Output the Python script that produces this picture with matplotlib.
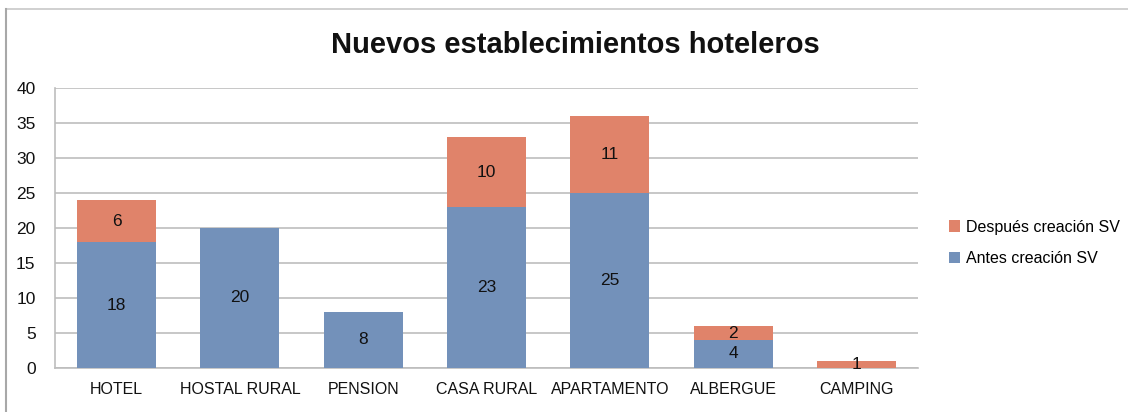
import matplotlib
matplotlib.use("Agg")
import matplotlib.pyplot as plt
from matplotlib.lines import Line2D
from matplotlib.patches import Patch

categories = ["HOTEL", "HOSTAL RURAL", "PENSION", "CASA RURAL", "APARTAMENTO", "ALBERGUE", "CAMPING"]
antes = [18, 20, 8, 23, 25, 4, 0]
despues = [6, 0, 0, 10, 11, 2, 1]
series_names = ["Después creación SV", "Antes creación SV"]
yticks = [0, 5, 10, 15, 20, 25, 30, 35, 40]

blue = "#7391BA"
orange = "#E0836A"
grid = "#BDBDBD"

plt.rcParams['font.family'] = ['Liberation Sans', 'DejaVu Sans']

fig = plt.figure(figsize=(11.28, 4.12), dpi=100)
ax = fig.add_axes([55/1128, 1-368/412, (918-55)/1128, (368-88)/412])

x = list(range(len(categories)))
w = 0.64
ax.bar(x, antes, width=w, color=blue, zorder=3)
ax.bar(x, despues, width=w, bottom=antes, color=orange, zorder=3)

for i in x:
    if antes[i] > 0:
        ax.text(i, antes[i]/2, str(antes[i]), ha="center", va="center", fontsize=12.5, color="#111111", zorder=4)
    if despues[i] > 0:
        ax.text(i, antes[i] + despues[i]/2, str(despues[i]), ha="center", va="center", fontsize=12.5, color="#111111", zorder=4)

ax.set_xlim(-0.5, len(categories) - 0.5)
ax.set_ylim(0, 40)
ax.set_yticks(yticks)
ax.set_yticklabels([str(t) for t in yticks], fontsize=12.5)
ax.set_xticks(x)
ax.set_xticklabels(categories, fontsize=11.5)
ax.tick_params(axis="both", length=0, colors="#111111")
ax.tick_params(axis="y", pad=14)
ax.tick_params(axis="x", pad=10)
ax.yaxis.grid(True, color=grid, linewidth=1.2, zorder=0)
ax.set_axisbelow(True)
for s in ["top", "right"]:
    ax.spines[s].set_visible(False)
ax.spines["left"].set_color(grid)
ax.spines["bottom"].set_color(grid)
ax.spines["left"].set_linewidth(1.2)
ax.spines["bottom"].set_linewidth(1.2)

fig.text(575/1128, 1-45/412, "Nuevos establecimientos hoteleros", ha="center", va="center",
         fontsize=21, fontweight="bold", color="#111111")

handles = [Patch(facecolor=orange), Patch(facecolor=blue)]
fig.legend(handles, series_names, loc="center left", bbox_to_anchor=(944/1128, 1-243/412),
           frameon=False, fontsize=11.5, handlelength=0.7, handleheight=0.7, handletextpad=0.4,
           labelspacing=1.05, borderaxespad=0, borderpad=0.3)

# outer frame lines (top and left)
fig.add_artist(Line2D([6/1128, 1], [1-9/412, 1-9/412], color="#C8C8C8", lw=1.2, transform=fig.transFigure))
fig.add_artist(Line2D([6/1128, 6/1128], [0, 1-9/412], color="#A8A8A8", lw=1.5, transform=fig.transFigure))

fig.savefig("out.png", dpi=100)
